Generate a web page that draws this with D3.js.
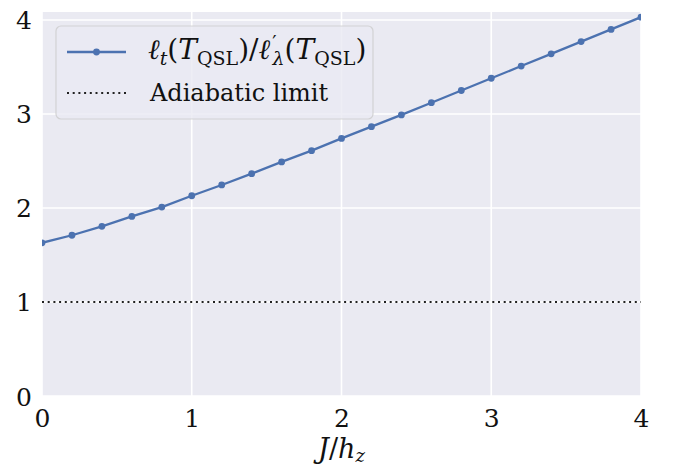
<!DOCTYPE html>
<html>
<head>
<meta charset="utf-8">
<script src="https://cdn.jsdelivr.net/npm/d3@7"></script>
<style>
    body { margin: 0; background: #fff; }
</style>
</head>
<body>
<svg id="chart" width="675" height="468"></svg>
<script>
// J/h_z values and the ratio
const jValues = [0, 0.2, 0.4, 0.6, 0.8, 1.0, 1.2, 1.4, 1.6, 1.8, 2.0,
    2.2, 2.4, 2.6, 2.8, 3.0, 3.2, 3.4, 3.6, 3.8, 4.0];
const ratioValues = [1.63, 1.71, 1.805, 1.91, 2.01, 2.13, 2.245, 2.365, 2.49, 2.61, 2.74,
    2.865, 2.99, 3.12, 3.25, 3.38, 3.51, 3.64, 3.77, 3.90, 4.03];
const adiabaticLimit = 1;
const xTicks = [0, 1, 2, 3, 4];
const yTicks = [0, 1, 2, 3, 4];
const xDomain = [0, 4];
const yDomain = [0, 4.085];

// Liberation Serif falls back to sans here, DejaVu Serif is the serif we have
const serif = "'DejaVu Serif', serif";

const margin = {left: 42, right: 34, top: 12, bottom: 72};
const svg = d3.select('#chart');
const width = +svg.attr('width') - margin.left - margin.right;
const height = +svg.attr('height') - margin.top - margin.bottom;

const x = d3.scaleLinear().domain(xDomain).range([0, width]);
const y = d3.scaleLinear().domain(yDomain).range([height, 0]);

const g = svg.append('g')
    .attr('transform', 'translate(' + margin.left + ',' + margin.top + ')');

g.append('defs').append('clipPath')
    .attr('id', 'plot-clip')
    .append('rect')
    .attr('width', width)
    .attr('height', height);

// background
g.append('rect')
    .attr('width', width)
    .attr('height', height)
    .attr('fill', '#eaeaf2');

// grid
g.selectAll('.xgrid')
    .data(xTicks)
    .enter()
    .append('line')
    .attr('x1', d => x(d)).attr('x2', d => x(d))
    .attr('y1', 0).attr('y2', height)
    .attr('stroke', '#fff')
    .attr('stroke-width', 1.6);

g.selectAll('.ygrid')
    .data(yTicks)
    .enter()
    .append('line')
    .attr('x1', 0).attr('x2', width)
    .attr('y1', d => y(d)).attr('y2', d => y(d))
    .attr('stroke', '#fff')
    .attr('stroke-width', 1.6);

// axes (ticks hidden, labels only)
const xAxis = g.append('g')
    .attr('transform', 'translate(0,' + height + ')')
    .call(d3.axisBottom(x).tickValues(xTicks).tickFormat(d3.format('d')).tickSize(0).tickPadding(12));
const yAxis = g.append('g')
    .call(d3.axisLeft(y).tickValues(yTicks).tickFormat(d3.format('d')).tickSize(0).tickPadding(10));

[xAxis, yAxis].forEach(a => {
    a.attr('font-family', serif).attr('font-size', 25);
    a.select('.domain').remove();
    a.selectAll('text').attr('fill', '#111');
});
yAxis.selectAll('text').attr('dy', '0.36em');
xAxis.selectAll('text').attr('dy', '0.74em');

const plot = g.append('g').attr('clip-path', 'url(#plot-clip)');

// adiabatic limit
plot.append('line')
    .attr('x1', x(xDomain[0])).attr('x2', x(xDomain[1]))
    .attr('y1', y(adiabaticLimit)).attr('y2', y(adiabaticLimit))
    .attr('stroke', '#222')
    .attr('stroke-width', 2)
    .attr('stroke-dasharray', '2,3.7');

// ratio curve
const pts = jValues.map((j, i) => [j, ratioValues[i]]);
plot.append('path')
    .datum(pts)
    .attr('fill', 'none')
    .attr('stroke', '#4c72b0')
    .attr('stroke-width', 2.3)
    .attr('d', d3.line().x(d => x(d[0])).y(d => y(d[1])));

plot.selectAll('.point')
    .data(pts)
    .enter()
    .append('circle')
    .attr('cx', d => x(d[0]))
    .attr('cy', d => y(d[1]))
    .attr('r', 3.4)
    .attr('fill', '#4c72b0');

// x label
svg.append('text')
    .attr('x', margin.left + width / 2)
    .attr('y', 458)
    .attr('text-anchor', 'middle')
    .attr('font-family', serif)
    .attr('font-size', 27)
    .attr('fill', '#111')
    .html('<tspan font-style="italic">J</tspan>/<tspan font-style="italic">h</tspan>' +
        '<tspan font-style="italic" font-size="18" dy="4">z</tspan>');

// legend
const leg = svg.append('g').attr('transform', 'translate(56,26)');
leg.append('rect')
    .attr('width', 317)
    .attr('height', 93)
    .attr('rx', 5)
    .attr('fill', '#eaeaf2')
    .attr('fill-opacity', 0.8)
    .attr('stroke', '#cccccc')
    .attr('stroke-opacity', 0.8)
    .attr('stroke-width', 1.2);

leg.append('line')
    .attr('x1', 11).attr('x2', 70)
    .attr('y1', 26).attr('y2', 26)
    .attr('stroke', '#4c72b0')
    .attr('stroke-width', 2.3);
leg.append('circle')
    .attr('cx', 40.5).attr('cy', 26)
    .attr('r', 3.4)
    .attr('fill', '#4c72b0');
leg.append('line')
    .attr('x1', 11).attr('x2', 70)
    .attr('y1', 67).attr('y2', 67)
    .attr('stroke', '#222')
    .attr('stroke-width', 2)
    .attr('stroke-dasharray', '2,3.7');

const it = t => '<tspan font-style="italic">' + t + '</tspan>';
const sub = (t, italic, after) => '<tspan font-size="19" dy="6"' + (italic ? ' font-style="italic"' : '') + '>' + t +
    '</tspan><tspan dy="-6">' + after + '</tspan>';
leg.append('text')
    .attr('x', 92)
    .attr('y', 33)
    .attr('font-family', serif)
    .attr('font-size', 28)
    .attr('fill', '#111')
    .html(it('ℓ') + sub('t', true, '(') + it('T') + sub('QSL', false, ')/') +
        it('ℓ') + '<tspan font-size="19" dx="2" dy="-10">′</tspan>' +
        '<tspan font-size="19" font-style="italic" dx="-4" dy="16">λ</tspan><tspan dy="-6">(</tspan>' +
        it('T') + sub('QSL', false, ')'));

leg.append('text')
    .attr('x', 94)
    .attr('y', 75)
    .attr('font-family', serif)
    .attr('font-size', 24)
    .attr('fill', '#111')
    .text('Adiabatic limit');
</script>
</body>
</html>
